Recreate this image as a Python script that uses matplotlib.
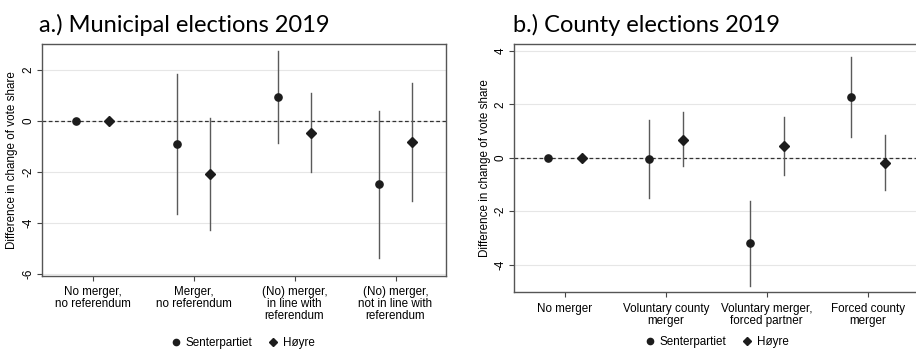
import numpy as np
import matplotlib; matplotlib.use("Agg")
import matplotlib.pyplot as plt
from matplotlib.lines import Line2D

# --- municipal elections 2019 ---
mun_cats = ["No merger,\nno referendum", "Merger,\nno referendum",
            "(No) merger,\nin line with\nreferendum",
            "(No) merger,\nnot in line with\nreferendum"]
mun_sp     = [0.0, -0.93, 0.93, -2.49]
mun_sp_lo  = [None, -3.64, -0.89, -5.36]
mun_sp_hi  = [None, 1.81, 2.73, 0.39]
mun_h      = [0.0, -2.08, -0.47, -0.83]
mun_h_lo   = [None, -4.26, -2.00, -3.15]
mun_h_hi   = [None, 0.10, 1.08, 1.48]

# --- county elections 2019 ---
cty_cats = ["No merger", "Voluntary county\nmerger",
            "Voluntary merger,\nforced partner", "Forced county\nmerger"]
cty_sp     = [0.0, -0.05, -3.20, 2.27]
cty_sp_lo  = [None, -1.52, -4.79, 0.78]
cty_sp_hi  = [None, 1.40, -1.63, 3.78]
cty_h      = [0.0, 0.67, 0.43, -0.20]
cty_h_lo   = [None, -0.32, -0.66, -1.21]
cty_h_hi   = [None, 1.70, 1.52, 0.85]

MARK = "#1c1c1c"
BAR = "#5a5a5a"
OFF = 1 / 6
FS = 8.4
plt.rcParams["font.family"] = ["Liberation Sans", "DejaVu Sans"]


def panel(ax, cats, series, yticks, ylim):
    x = np.arange(len(cats))
    ax.axhline(0, color="#333333", lw=0.9, ls=(0, (3, 2)), zorder=2)
    for yt in yticks:
        ax.axhline(yt, color="#e6e6e6", lw=0.8, zorder=0)
    for (vals, lo, hi, mk, ms), dx in zip(series, (-OFF, OFF)):
        for i in range(len(cats)):
            if lo[i] is not None:
                ax.plot([x[i] + dx] * 2, [lo[i], hi[i]], color=BAR, lw=1.0, zorder=3)
        ax.plot(x + dx, vals, ls="none", marker=mk, ms=ms, color=MARK, zorder=4)
    ax.set_xlim(-0.5, len(cats) - 0.5)
    ax.set_ylim(*ylim)
    ax.set_xticks(x)
    ax.set_xticklabels(cats, fontsize=FS, linespacing=1.0)
    ax.set_yticks(yticks)
    ax.set_yticklabels([f"{t:g}" for t in yticks], rotation=90, va="center", fontsize=FS)
    ax.set_ylabel("Difference in change of vote share", fontsize=FS, labelpad=3)
    ax.tick_params(direction="out", length=3.5, width=0.8, color="#444444", pad=2)
    ax.tick_params(axis="x", pad=4)
    for s in ax.spines.values():
        s.set_color("#555555")
        s.set_linewidth(1.0)


fig = plt.figure(figsize=(9.16, 3.49), dpi=100)
ax1 = fig.add_axes([0.0459, 0.209, 0.441, 0.665])
ax2 = fig.add_axes([0.5615, 0.1625, 0.441, 0.7115])

panel(ax1, mun_cats,
      [(mun_sp, mun_sp_lo, mun_sp_hi, "o", 5.2), (mun_h, mun_h_lo, mun_h_hi, "D", 4.6)],
      [-6, -4, -2, 0, 2], (-6.08, 3.0))
panel(ax2, cty_cats,
      [(cty_sp, cty_sp_lo, cty_sp_hi, "o", 5.2), (cty_h, cty_h_lo, cty_h_hi, "D", 4.6)],
      [-4, -2, 0, 2, 4], (-5.04, 4.26))

title_font = ["Lato", "DejaVu Sans"]
fig.text(39 / 916, 1 - 32 / 349, "a.) Municipal elections 2019", fontsize=17,
         family=title_font, va="baseline", ha="left")
fig.text(513 / 916, 1 - 32 / 349, "b.) County elections 2019", fontsize=17,
         family=title_font, va="baseline", ha="left")

handles = [Line2D([], [], ls="none", marker="o", ms=4.5, color=MARK),
           Line2D([], [], ls="none", marker="D", ms=4, color=MARK)]
for cx, cy in ((243 / 916, 1 - 343 / 349), (717 / 916, 1 - 342 / 349)):
    fig.legend(handles, ["Senterpartiet", "Høyre"], loc="center", ncol=2,
               bbox_to_anchor=(cx, cy), frameon=False, fontsize=FS,
               handlelength=0.8, handletextpad=0.4, columnspacing=1.4)

fig.savefig("out.png", dpi=100)
